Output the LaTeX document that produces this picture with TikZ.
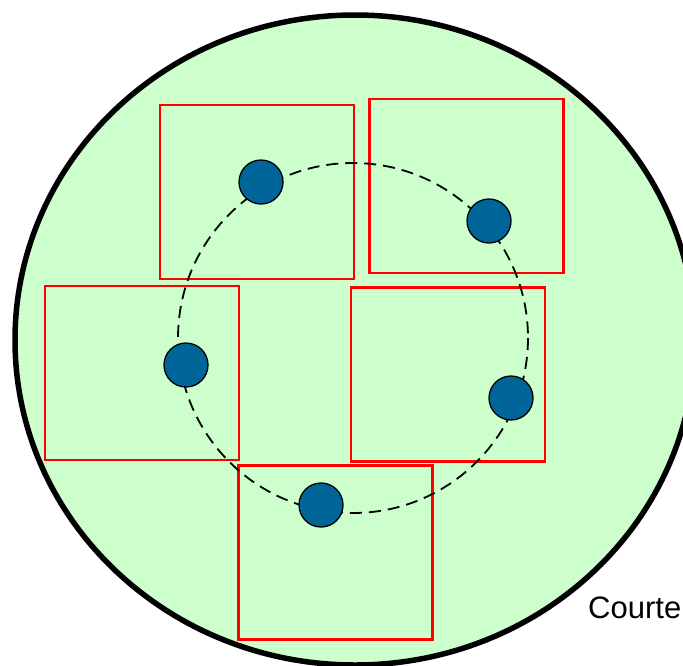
\documentclass[tikz,border=0pt]{standalone}
\usepackage{fontspec}
\setmainfont{Liberation Sans}
\usepackage{xcolor}
\usepackage{tikz}
\usetikzlibrary{positioning,calc}
\definecolor{cellgreen}{HTML}{CCFFCC}
\definecolor{dotblue}{HTML}{006699}
\tikzset{
  window/.style={draw=red,line width=2.4pt,minimum width=194pt,minimum height=174pt,
    inner sep=0pt,outer sep=0pt},
  site/.style={circle,draw=black,line width=1.3pt,fill=dotblue,minimum size=44pt,
    inner sep=0pt},
  orbit/.style={dash pattern=on 12pt off 7pt,line width=1.8pt}
}
\begin{document}
\begin{tikzpicture}[x=1pt,y=-1pt]
\useasboundingbox (0,0) rectangle (683,665);
\clip (0,0) rectangle (683,665);
\fill[white] (0,0) rectangle (683,665);

% domain
\draw[line width=5.5pt,fill=cellgreen] (355,340) ellipse [x radius=340,y radius=325];

% windows
\node[window] (w1) at (257,192) {};
\node[window] (w2) at (466.5,186) {};
\node[window] (w3) at (142,373) {};
\node[window] (w4) at (448,374.5) {};
\node[window] (w5) at (335.5,552.5) {};

% orbit and sites
\draw[orbit] (353,338) circle [radius=175];
\node[site] (s1) at (261,182) {};
\node[site] (s2) at (489,221) {};
\node[site] (s3) at (186,365) {};
\node[site] (s4) at (511,398) {};
\node[site] (s5) at (321,505) {};

\node[anchor=base west,font=\fontsize{31}{35}\selectfont,inner sep=0pt] (credit) at (588,618) {Courte};
\end{tikzpicture}
\end{document}
